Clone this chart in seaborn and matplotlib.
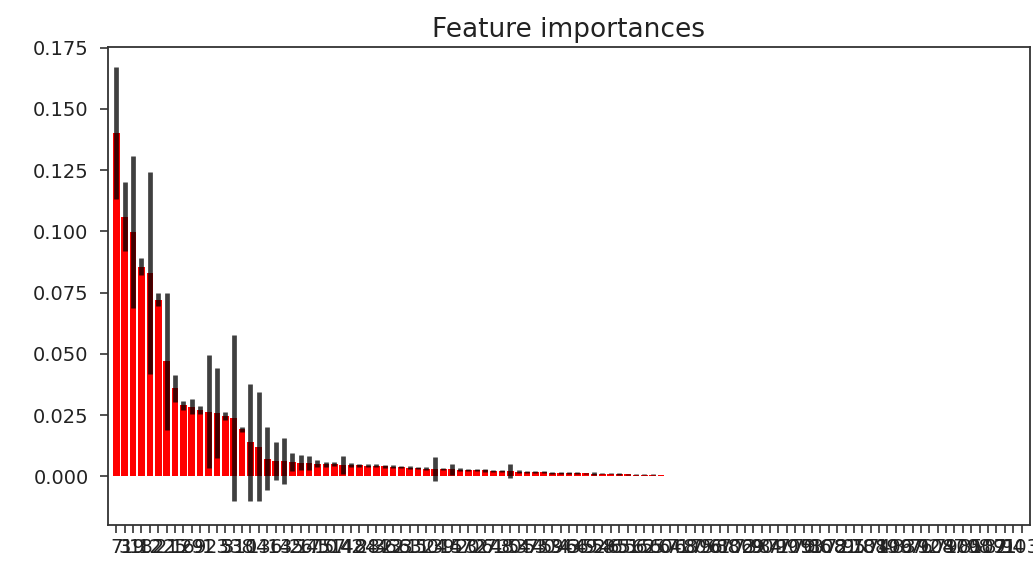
import matplotlib
matplotlib.use("Agg")
import matplotlib.pyplot as plt
import seaborn as sns
import pandas as pd

# Feature indices in sorted (descending importance) order
feature_order = [7, 3, 19, 18, 12, 2, 21, 25, 16, 29,
                 9, 1, 23, 5, 31, 38, 0, 13, 41, 6,
                 4, 35, 26, 17, 45, 10, 57, 14, 42, 8,
                 28, 44, 36, 22, 33, 63, 11, 50, 24, 39,
                 15, 47, 20, 32, 27, 61, 48, 30, 54, 37,
                 53, 40, 59, 34, 43, 66, 49, 52, 58, 46,
                 65, 51, 56, 62, 55, 60,
                 64, 71, 68, 80, 75, 96, 67, 88, 102, 73,
                 69, 90, 84, 77, 99, 105, 70, 93, 86, 108,
                 72, 81, 95, 78, 101, 74, 89, 106, 83, 97,
                 76, 92, 104, 79, 87, 100, 85, 98, 107, 82,
                 91, 94, 103]

importances_nonzero = [0.140, 0.106, 0.0998, 0.0855, 0.0832, 0.0721, 0.047, 0.036, 0.029, 0.0285,
                       0.0270, 0.0265, 0.0258, 0.0247, 0.0238, 0.0193, 0.0139, 0.0122, 0.0073, 0.0063,
                       0.0062, 0.0058, 0.0056, 0.0055, 0.0052, 0.0050, 0.0049, 0.0047, 0.0046, 0.0045,
                       0.0044, 0.0043, 0.0042, 0.0040, 0.0038, 0.0036, 0.0034, 0.0032, 0.0031, 0.0030,
                       0.0029, 0.0028, 0.0027, 0.0026, 0.0025, 0.0024, 0.0023, 0.0021, 0.0020, 0.0019,
                       0.0018, 0.0017, 0.0016, 0.0016, 0.0015, 0.0014, 0.0013, 0.0012, 0.0011, 0.0011,
                       0.0010, 0.0009, 0.0008, 0.0008, 0.0007, 0.0006]

std_nonzero = [0.027, 0.014, 0.031, 0.0035, 0.0412, 0.0027, 0.028, 0.0055, 0.0017, 0.003,
               0.0017, 0.0231, 0.0183, 0.0017, 0.0339, 0.001, 0.024, 0.0223, 0.013, 0.0077,
               0.0094, 0.0037, 0.003, 0.003, 0.0015, 0.001, 0.0008, 0.0038, 0.0008, 0.0007,
               0.0007, 0.0006, 0.0006, 0.0006, 0.0005, 0.0006, 0.0005, 0.0006, 0.0048, 0.0005,
               0.0022, 0.0006, 0.0005, 0.0005, 0.0005, 0.0004, 0.0004, 0.0028, 0.0005, 0.0004,
               0.0004, 0.0004, 0.0004, 0.0004, 0.0004, 0.0003, 0.0003, 0.0006, 0.0002, 0.0002,
               0.0006, 0.0002, 0.0002, 0.0002, 0.0002, 0.0002]

n_features = len(feature_order)
n_zero = n_features - len(importances_nonzero)
importances = importances_nonzero + [0.0] * n_zero
stds = std_nonzero + [0.0] * n_zero

df = pd.DataFrame({
    "feature": [str(i) for i in feature_order],
    "importance": importances,
    "std": stds,
})

fig = plt.figure(figsize=(10.33, 5.63), dpi=100)
ax = fig.add_axes([0.1045, 0.0675, 0.8925, 0.849])

sns.barplot(data=df, x="feature", y="importance", order=list(df["feature"]),
            color="red", saturation=1, width=0.8, linewidth=0,
            errorbar=None, ax=ax)
ax.errorbar(range(n_features), df["importance"], yerr=df["std"], fmt="none",
            ecolor="black", elinewidth=3.4, alpha=0.75, capsize=0)

ax.set_xlim(-1, n_features)
ax.set_ylim(-0.0198, 0.1752)
ax.set_xlabel("")
ax.set_ylabel("")
ax.set_title("Feature importances", fontsize=19, pad=7, color="#222222")
ax.tick_params(axis="both", labelsize=14, length=6, width=1.2, color="#333333",
               labelcolor="#222222")
ax.tick_params(axis="y", pad=8)
ax.set_yticks([0.0, 0.025, 0.05, 0.075, 0.1, 0.125, 0.15, 0.175])
for s in ax.spines.values():
    s.set_visible(True)
    s.set_linewidth(1.3)
    s.set_color("#333333")

fig.savefig("out.png", dpi=100)
